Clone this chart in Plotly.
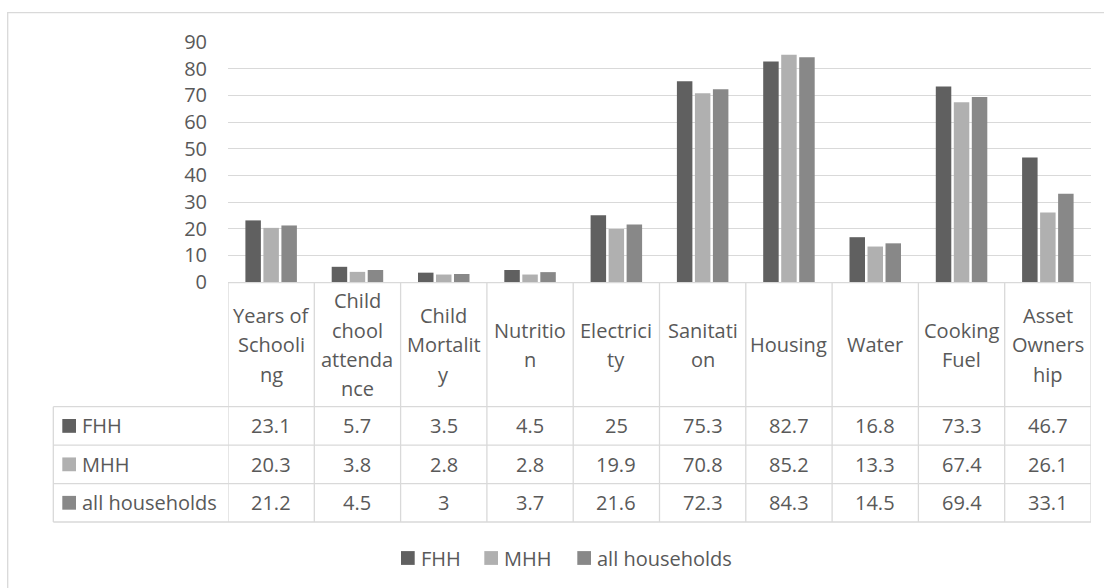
import plotly.graph_objects as go

# ---- data -------------------------------------------------------------
categories = [
    "Years of Schooling", "Child chool attendance", "Child Mortality",
    "Nutrition", "Electricity", "Sanitation", "Housing", "Water",
    "Cooking Fuel", "Asset Ownership",
]
# header text exactly as it wraps inside the data-table columns
header_lines = [
    ["Years of", "Schooli", "ng"],
    ["Child", "chool", "attenda", "nce"],
    ["Child", "Mortalit", "y"],
    ["Nutritio", "n"],
    ["Electrici", "ty"],
    ["Sanitati", "on"],
    ["Housing"],
    ["Water"],
    ["Cooking", "Fuel"],
    ["Asset", "Owners", "hip"],
]
series_names = ["FHH", "MHH", "all households"]
fhh = [23.1, 5.7, 3.5, 4.5, 25, 75.3, 82.7, 16.8, 73.3, 46.7]
mhh = [20.3, 3.8, 2.8, 2.8, 19.9, 70.8, 85.2, 13.3, 67.4, 26.1]
all_households = [21.2, 4.5, 3, 3.7, 21.6, 72.3, 84.3, 14.5, 69.4, 33.1]
series_values = [fhh, mhh, all_households]
y_ticks = [0, 10, 20, 30, 40, 50, 60, 70, 80, 90]

# ---- style ------------------------------------------------------------
colors = ["#606060", "#b0b0b0", "#888888"]
text_color = "#595959"
line_color = "#d9d9d9"
FONT = "Open Sans"
FS = 20

W, H = 1104, 588
PL, PR, PT, PB = 228, 1091, 42, 282          # plot area in pixels
PW, PH = PR - PL, PB - PT


def px(xp):
    """pixel x -> paper x"""
    return (xp - PL) / PW


def py(yp):
    """pixel y -> paper y"""
    return (PB - yp) / PH


x_idx = list(range(len(categories)))

fig = go.Figure()
for name, vals, col in zip(series_names, series_values, colors):
    fig.add_trace(go.Bar(
        x=x_idx, y=vals, name=name,
        marker=dict(color=col, line=dict(width=0)),
        showlegend=False,
    ))

shapes = []
annotations = []

# outer chart frame (runs off the right/bottom of the page)
shapes.append(dict(type="rect", xref="paper", yref="paper",
                   x0=px(7.7), x1=px(1110), y0=py(600), y1=py(12.7),
                   line=dict(color=line_color, width=1.3), fillcolor="rgba(0,0,0,0)"))

# ---- data table under the plot ---------------------------------------
HEAD_TOP, HEAD_BOT = 282.7, 406.7
ROW_H = (522.0 - HEAD_BOT) / 3
TABLE_BOT = HEAD_BOT + 3 * ROW_H
ROW_LEFT = 53.3
lw = dict(color=line_color, width=1.3)

# vertical column separators
for i in range(len(categories) + 1):
    shapes.append(dict(type="line", xref="x", yref="paper",
                       x0=i - 0.5, x1=i - 0.5, y0=py(HEAD_TOP), y1=py(TABLE_BOT), line=lw))
# top of header
shapes.append(dict(type="line", xref="x", yref="paper",
                   x0=-0.5, x1=len(categories) - 0.5, y0=py(HEAD_TOP), y1=py(HEAD_TOP), line=lw))
# row lines, spanning the row-header column too
for r in range(4):
    yy = HEAD_BOT + r * ROW_H
    shapes.append(dict(type="line", xref="paper", yref="paper",
                       x0=px(ROW_LEFT), x1=px(PR), y0=py(yy), y1=py(yy), line=lw))
# left edge of row-header column
shapes.append(dict(type="line", xref="paper", yref="paper",
                   x0=px(ROW_LEFT), x1=px(ROW_LEFT), y0=py(HEAD_BOT), y1=py(TABLE_BOT), line=lw))

# header labels, one annotation per wrapped line
LINE_GAP = 29.4
head_mid = (HEAD_TOP + HEAD_BOT) / 2
for j, lines in enumerate(header_lines):
    n = len(lines)
    for k, t in enumerate(lines):
        yy = head_mid + (k - (n - 1) / 2) * LINE_GAP
        annotations.append(dict(x=j, y=py(yy), xref="x", yref="paper", text=t,
                                showarrow=False, xanchor="center", yanchor="middle",
                                font=dict(family=FONT, size=FS, color=text_color)))

# table rows: swatch, series name, values
for r, (name, vals, col) in enumerate(zip(series_names, series_values, colors)):
    yc = HEAD_BOT + (r + 0.5) * ROW_H
    shapes.append(dict(type="rect", xref="paper", yref="paper",
                       x0=px(62.3), x1=px(76), y0=py(yc + 6.9), y1=py(yc - 6.9),
                       fillcolor=col, line=dict(width=0)))
    annotations.append(dict(x=px(80), y=py(yc), xref="paper", yref="paper", text=name,
                            showarrow=False, xanchor="left", yanchor="middle",
                            font=dict(family=FONT, size=FS, color=text_color)))
    for j, v in enumerate(vals):
        annotations.append(dict(x=j, y=py(yc), xref="x", yref="paper", text=f"{v:g}",
                                showarrow=False, xanchor="center", yanchor="middle",
                                font=dict(family=FONT, size=FS, color=text_color)))

# ---- legend along the bottom ------------------------------------------
LEG_Y = 558.0
leg_sq = [401.0, 484.3, 577.3]
for name, col, x0 in zip(series_names, colors, leg_sq):
    shapes.append(dict(type="rect", xref="paper", yref="paper",
                       x0=px(x0), x1=px(x0 + 13.7), y0=py(LEG_Y + 6.9), y1=py(LEG_Y - 6.9),
                       fillcolor=col, line=dict(width=0)))
    annotations.append(dict(x=px(x0 + 18), y=py(LEG_Y), xref="paper", yref="paper", text=name,
                            showarrow=False, xanchor="left", yanchor="middle",
                            font=dict(family=FONT, size=FS, color=text_color)))

fig.update_layout(
    width=W, height=H,
    margin=dict(l=PL, r=W - PR, t=PT, b=H - PB, pad=0),
    paper_bgcolor="white", plot_bgcolor="white",
    barmode="group", bargap=0.374, bargroupgap=0.14,
    font=dict(family=FONT, size=FS, color=text_color),
    xaxis=dict(range=[-0.5, len(categories) - 0.5], showticklabels=False,
               showgrid=False, zeroline=False, showline=False, ticks=""),
    yaxis=dict(range=[0, 90], tickvals=y_ticks, showgrid=True, gridcolor=line_color,
               gridwidth=1.3, zeroline=False, showline=False, ticks="",
               ticklabelstandoff=20,
               tickfont=dict(family=FONT, size=FS, color=text_color)),
    shapes=shapes, annotations=annotations,
)

fig.write_html("out.html")
